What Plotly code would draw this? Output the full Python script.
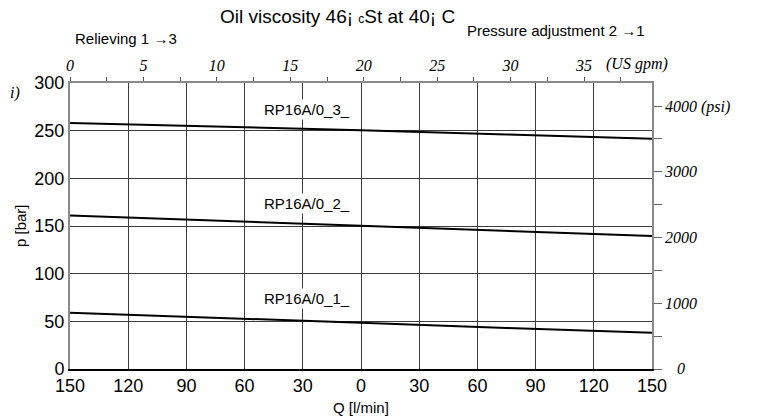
import plotly.graph_objects as go

# ---- data ----
q_lpm = [-150, -75, 0, 75, 150]          # negative = Relieving 1->3, positive = Pressure adjustment 2->1
p_rp3 = [258, 254.5, 250.5, 246, 241.5]
p_rp2 = [161, 155.5, 150, 145, 139.5]
p_rp1 = [59, 54, 48.5, 43, 38]
series_names = ["RP16A/0_3_", "RP16A/0_2_", "RP16A/0_1_"]
label_pos_q = [-28, -28, -28]
label_pos_p = [272, 174, 74]

q_ticks = [-150, -120, -90, -60, -30, 0, 30, 60, 90, 120, 150]
q_ticktext = [str(abs(v)) for v in q_ticks]
p_ticks = [0, 50, 100, 150, 200, 250, 300]
gpm_ticks = [0, 5, 10, 15, 20, 25, 30, 35]
psi_ticks = [0, 1000, 2000, 3000, 4000]
psi_ticktext = ["", "1000", "2000", "3000", "4000 (psi)"]

GPM_PER_LPM = 1 / 3.785411784
PSI_PER_BAR = 14.5038

# ---- layout helpers (page pixel -> paper); page body adds an 8px offset ----
OFF = 8
W, H = 750, 411
L, T = 70 - OFF, 83 - OFF
R = W - (652 - OFF)
B = H - (369 - OFF)
PW, PH = W - L - R, H - T - B
def px(x): return (x - OFF - L) / PW
def py(y): return (H - B - (y - OFF)) / PH

SANS = "Liberation Sans, Arial, sans-serif"
SERIF = "Liberation Serif, Times New Roman, serif"

fig = go.Figure()
for name, vals in zip(series_names, [p_rp3, p_rp2, p_rp1]):
    fig.add_trace(go.Scatter(x=q_lpm, y=vals, mode="lines", name=name,
                             line=dict(color="black", width=2), showlegend=False,
                             hoverinfo="skip"))
# invisible traces to anchor secondary axes
fig.add_trace(go.Scatter(x=[0], y=[0], xaxis="x2", yaxis="y", mode="markers",
                         marker=dict(opacity=0), showlegend=False, hoverinfo="skip"))
fig.add_trace(go.Scatter(x=[0], y=[0], xaxis="x", yaxis="y2", mode="markers",
                         marker=dict(opacity=0), showlegend=False, hoverinfo="skip"))

grid_c = "#3c3c3c"
fig.update_layout(
    width=W, height=H, margin=dict(l=L, r=R, t=T, b=B, autoexpand=False),
    paper_bgcolor="white", plot_bgcolor="white",
    font=dict(family=SANS, color="black"),
    xaxis=dict(range=[-150, 150], tickvals=q_ticks, ticktext=q_ticktext,
               showgrid=True, gridcolor=grid_c, gridwidth=1.2, zeroline=False,
               showline=True, linecolor="black", linewidth=1.5, ticks="",
               automargin=False, tickfont=dict(size=18, family=SANS)),
    yaxis=dict(range=[0, 300], tickvals=p_ticks, showgrid=True, gridcolor=grid_c,
               gridwidth=1.2, zeroline=False, showline=True, linecolor="#8a8a8a",
               linewidth=2, ticks="", automargin=False,
               tickfont=dict(size=18, family=SANS)),
    xaxis2=dict(overlaying="x", side="top", range=[0, 150 * GPM_PER_LPM],
                tickvals=gpm_ticks, ticktext=[f"<i>{v}</i>" for v in gpm_ticks],
                showgrid=False, zeroline=False, showline=True, automargin=False,
                linecolor="#8a8a8a", linewidth=1.5, ticks="outside", ticklen=4,
                tickcolor="#555", tickwidth=1,
                minor=dict(dtick=2.5, tick0=0, ticks="outside", ticklen=4,
                           tickcolor="#555", tickwidth=1),
                tickfont=dict(size=16, family=SERIF, color="black"), tickangle=0),
    yaxis2=dict(overlaying="y", side="right", range=[0, 300 * PSI_PER_BAR],
                tickvals=psi_ticks,
                ticktext=[f"<i>{t}</i>" if t else "" for t in psi_ticktext],
                showgrid=False, automargin=False,
                zeroline=False, showline=True, linecolor="#8a8a8a", linewidth=1.5,
                ticks="outside", ticklen=8, tickcolor="#666", tickwidth=1,
                minor=dict(dtick=500, tick0=0, ticks="outside", ticklen=8,
                           tickcolor="#666", tickwidth=1),
                tickfont=dict(size=16, family=SERIF, color="black")),
)

ann = []
for name, xq, yp in zip(series_names, label_pos_q, label_pos_p):
    ann.append(dict(x=xq, y=yp, xref="x", yref="y", text=name, showarrow=False,
                    font=dict(size=15, family=SANS), bgcolor="white",
                    xanchor="center", yanchor="middle"))
ann += [
    dict(x=px(337), y=py(16), xref="paper", yref="paper",
         text="Oil viscosity 46¡ <span style='font-size:12px'>c</span>St at 40¡ C",
         showarrow=False, font=dict(size=19, family=SANS), xanchor="center", yanchor="middle"),
    dict(x=px(73), y=py(38), xref="paper", yref="paper", text="Relieving 1 →3",
         showarrow=False, font=dict(size=15, family=SANS), xanchor="left", yanchor="middle"),
    dict(x=px(465), y=py(31), xref="paper", yref="paper", text="Pressure adjustment 2 →1",
         showarrow=False, font=dict(size=15, family=SANS), xanchor="left", yanchor="middle"),
    dict(x=px(604), y=py(64), xref="paper", yref="paper", text="<i>(US gpm)</i>",
         showarrow=False, font=dict(size=16, family=SERIF), xanchor="left", yanchor="middle"),
    dict(x=px(681), y=py(368), xref="paper", yref="paper", text="<i>0</i>",
         showarrow=False, font=dict(size=16, family=SERIF), xanchor="center", yanchor="middle"),
    dict(x=px(8), y=py(93), xref="paper", yref="paper", text="<i>i)</i>",
         showarrow=False, font=dict(size=16, family=SERIF), xanchor="left", yanchor="middle"),
    dict(x=px(361), y=py(408), xref="paper", yref="paper", text="Q [l/min]",
         showarrow=False, font=dict(size=15, family=SANS), xanchor="center", yanchor="middle"),
    dict(x=px(20), y=py(226), xref="paper", yref="paper", text="p [bar]", textangle=-90,
         showarrow=False, font=dict(size=15, family=SANS), xanchor="center", yanchor="middle"),
]
fig.update_layout(annotations=ann)

fig.write_html("out.html")
